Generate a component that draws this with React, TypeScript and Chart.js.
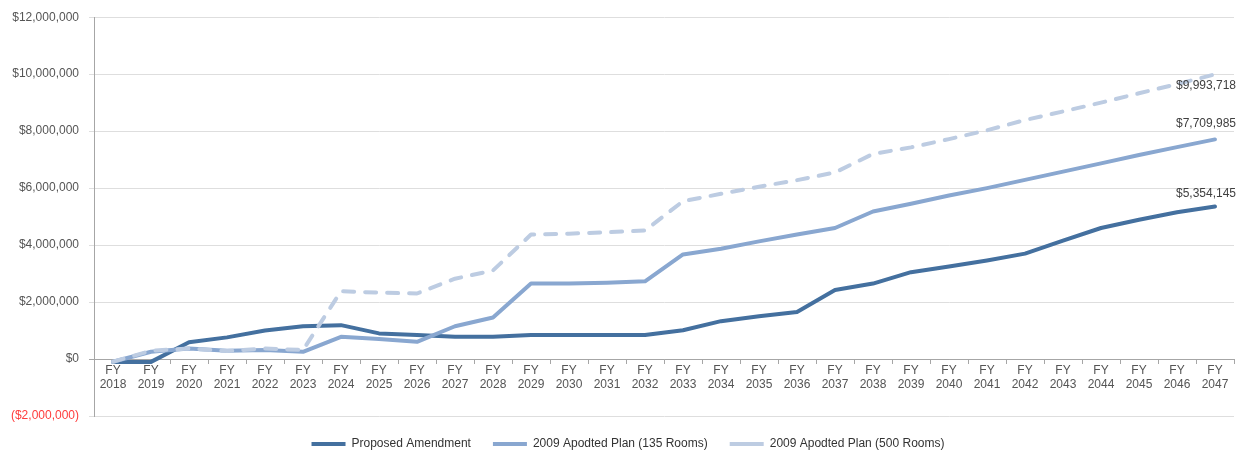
import React, { useEffect, useRef } from "react";
import { Chart, registerables } from "chart.js";

Chart.register(...registerables);

const years = [
  "2018", "2019", "2020", "2021", "2022", "2023", "2024", "2025", "2026", "2027",
  "2028", "2029", "2030", "2031", "2032", "2033", "2034", "2035", "2036", "2037",
  "2038", "2039", "2040", "2041", "2042", "2043", "2044", "2045", "2046", "2047",
];
const categories = years.map((y) => ["FY", y]);

const seriesNames = [
  "Proposed Amendment",
  "2009 Apodted Plan (135 Rooms)",
  "2009 Apodted Plan (500 Rooms)",
];

const proposedAmendment = [
  -100000, -100000, 590000, 760000, 1000000, 1150000, 1190000, 900000, 840000, 780000,
  780000, 840000, 840000, 840000, 840000, 1010000, 1330000, 1500000, 1650000, 2420000,
  2650000, 3050000, 3250000, 3460000, 3700000, 4160000, 4600000, 4890000, 5150000, 5354145,
];
const plan135 = [
  -95000, 255000, 370000, 290000, 315000, 255000, 780000, 700000, 605000, 1150000,
  1460000, 2650000, 2650000, 2680000, 2730000, 3670000, 3870000, 4130000, 4370000, 4600000,
  5180000, 5450000, 5740000, 6000000, 6290000, 6580000, 6870000, 7160000, 7440000, 7709985,
];
const plan500 = [
  -95000, 290000, 370000, 280000, 370000, 315000, 2380000, 2330000, 2300000, 2820000,
  3110000, 4370000, 4400000, 4450000, 4510000, 5540000, 5800000, 6050000, 6280000, 6550000,
  7200000, 7430000, 7720000, 8030000, 8390000, 8690000, 9000000, 9330000, 9650000, 9993718,
];

const yMin = -2000000;
const yMax = 12000000;
const yStep = 2000000;

const FONT = "'Liberation Sans', Arial, Helvetica, sans-serif";

const fmtMoney = (v: number) => {
  const s = "$" + Math.abs(Math.round(v)).toLocaleString("en-US");
  return v < 0 ? "(" + s + ")" : s;
};

const endLabelPlugin = {
  id: "endLabels",
  afterLayout(chart: any) {
    const lg = chart.legend;
    if (lg) {
      lg.left += 11;
      lg.right += 11;
    }
  },
  afterDatasetsDraw(chart: any) {
    const ctx = chart.ctx;
    const offsets = [-13, -16, 11];
    ctx.save();
    ctx.font = `12px ${FONT}`;
    ctx.fillStyle = "#404040";
    ctx.textAlign = "center";
    ctx.textBaseline = "middle";
    chart.data.datasets.forEach((ds: any, i: number) => {
      const meta = chart.getDatasetMeta(i);
      const last = meta.data[meta.data.length - 1];
      if (!last) return;
      const v = ds.data[ds.data.length - 1];
      ctx.fillText(fmtMoney(v), last.x - 9, last.y + offsets[i]);
    });
    ctx.restore();
  },
};

export default function App() {
  const ref = useRef<HTMLCanvasElement | null>(null);

  useEffect(() => {
    if (!ref.current) return;
    const chart = new Chart(ref.current, {
      type: "line",
      data: {
        labels: categories,
        datasets: [
          {
            label: seriesNames[0],
            data: proposedAmendment,
            borderColor: "#44709f",
            backgroundColor: "#44709f",
            borderWidth: 4,
            order: 3,
          },
          {
            label: seriesNames[1],
            data: plan135,
            borderColor: "#89a7d0",
            backgroundColor: "#89a7d0",
            borderWidth: 4,
            order: 2,
          },
          {
            label: seriesNames[2],
            data: plan500,
            borderColor: "#bdcce2",
            backgroundColor: "#bdcce2",
            borderWidth: 4,
            borderDash: [11, 11],
            order: 1,
          },
        ] as any,
      },
      options: {
        animation: false,
        responsive: false,
        devicePixelRatio: 1,
        elements: {
          point: { radius: 0, hoverRadius: 0 },
          line: { tension: 0, borderCapStyle: "round", borderJoinStyle: "round" },
        },
        layout: { padding: { left: 0, right: 13, top: 16, bottom: -7 } },
        plugins: {
          tooltip: { enabled: false },
          legend: {
            position: "bottom",
            labels: {
              usePointStyle: true,
              pointStyle: "line",
              pointStyleWidth: 34,
              padding: 22,
              color: "#333333",
              font: { family: FONT, size: 12 },
              sort: (a: any, b: any) => a.datasetIndex - b.datasetIndex,
            },
          },
        },
        scales: {
          x: {
            type: "category",
            position: { y: 0 } as any,
            offset: true,
            grid: {
              drawOnChartArea: false,
              drawTicks: true,
              tickLength: 4,
              offset: true,
              color: "#a6a6a6",
            },
            border: { display: true, color: "#a6a6a6", width: 1 },
            ticks: {
              autoSkip: false,
              maxRotation: 0,
              minRotation: 0,
              padding: 0,
              color: "#555555",
              font: { family: FONT, size: 12, lineHeight: 1.2 },
            },
          },
          y: {
            type: "linear",
            min: yMin,
            max: yMax,
            afterFit: (scale: any) => {
              scale.width = 94;
            },
            ticks: {
              stepSize: yStep,
              padding: 10,
              color: (c: any) => (c.tick && c.tick.value < 0 ? "#ff3b3b" : "#555555"),
              font: { family: FONT, size: 12 },
              callback: (v: any) => fmtMoney(Number(v)),
            },
            grid: {
              color: (c: any) => (c.tick && c.tick.value === 0 ? "#a6a6a6" : "#dedede"),
              tickLength: 5,
              lineWidth: 1,
            },
            border: { display: true, color: "#a6a6a6", width: 1 },
          },
        },
      } as any,
      plugins: [endLabelPlugin],
    });
    return () => chart.destroy();
  }, []);

  return (
    <div style={{ position: "fixed", left: 0, top: 0, width: 1247, height: 453, background: "#fff" }}>
      <canvas ref={ref} width={1247} height={453} />
    </div>
  );
}
